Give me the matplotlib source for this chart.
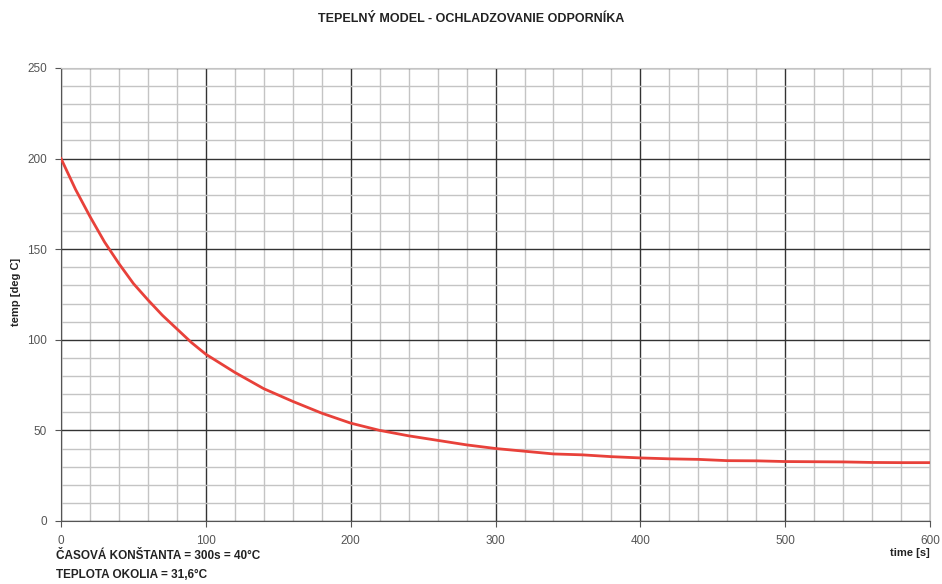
import numpy as np
import matplotlib
matplotlib.use("Agg")
import matplotlib.pyplot as plt
from matplotlib.ticker import MultipleLocator

plt.rcParams['font.family'] = ['Liberation Sans', 'DejaVu Sans']

# values
time_s = [0, 10, 20, 30, 40, 50, 60, 70, 80, 90, 100, 120, 140, 160, 180, 200, 220, 240, 260, 280,
          300, 320, 340, 360, 380, 400, 420, 440, 460, 480, 500, 520, 540, 560, 580, 600]
temp_c = [200, 183, 168, 154, 142, 131, 122, 113.5, 106, 98.5, 92, 82, 73, 66, 59.5, 54, 50, 47, 44.5, 42,
          40, 38.5, 37, 36.5, 35.5, 34.8, 34.3, 34, 33.3, 33.2, 32.8, 32.7, 32.6, 32.3, 32.2, 32.2]

fig = plt.figure(figsize=(9.42, 5.84), dpi=100)
ax = fig.add_axes([0.0648, 0.1079, 0.9225, 0.7757])

ax.plot(time_s, temp_c, color='#e8413a', lw=2.0, zorder=3)

ax.set_xlim(0, 600)
ax.set_ylim(0, 250)
ax.xaxis.set_major_locator(MultipleLocator(100))
ax.xaxis.set_minor_locator(MultipleLocator(20))
ax.yaxis.set_major_locator(MultipleLocator(50))
ax.yaxis.set_minor_locator(MultipleLocator(10))
ax.grid(which='major', color='#333333', lw=1.0, zorder=1)
ax.grid(which='minor', color='#c4c4c4', lw=1.0, zorder=0)
ax.set_axisbelow(True)

for side in ['top', 'right']:
    ax.spines[side].set_color('#c4c4c4')
for side in ['left', 'bottom']:
    ax.spines[side].set_color('#555555')

ax.tick_params(which='major', length=4, color='#555555', labelsize=8.5,
               labelcolor='#555555', pad=6)
ax.tick_params(which='minor', length=0)

fig.text(0.5, 0.968, 'TEPELNÝ MODEL - OCHLADZOVANIE ODPORNÍKA', ha='center', va='center',
         fontsize=9, fontweight='bold', color='#222222')
fig.text(0.017, 0.5, 'temp [deg C]', rotation=90, ha='center', va='center',
         fontsize=8, fontweight='bold', color='#222222')
fig.text(0.987, 0.053, 'time [s]', ha='right', va='center',
         fontsize=8, fontweight='bold', color='#222222')
fig.text(0.059, 0.048, 'ČASOVÁ KONŠTANTA = 300s = 40°C', ha='left', va='center',
         fontsize=8.5, fontweight='bold', color='#222222')
fig.text(0.059, 0.016, 'TEPLOTA OKOLIA = 31,6°C', ha='left', va='center',
         fontsize=8.5, fontweight='bold', color='#222222')

fig.savefig('out.png', dpi=100)
